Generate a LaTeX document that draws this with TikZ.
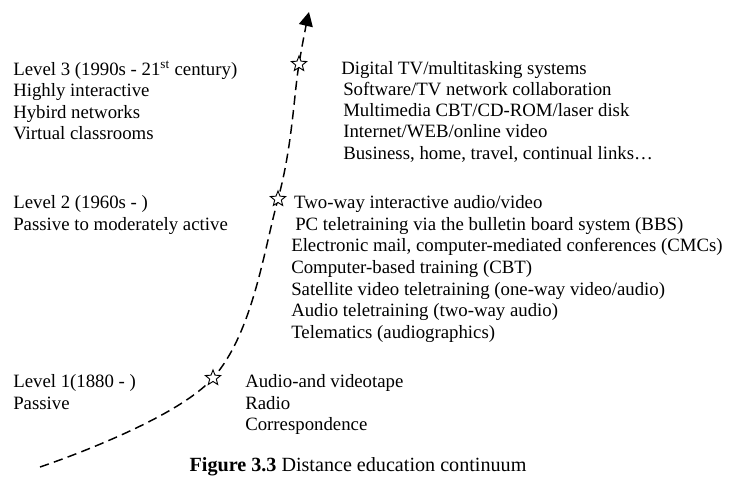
\documentclass[tikz,border=0pt]{standalone}
\usepackage{fontspec}
\setmainfont{Liberation Serif}
\usepackage{tikz}
\usetikzlibrary{arrows.meta,positioning,shapes.geometric}

\begin{document}
\begin{tikzpicture}[
  x=0.75pt,y=-0.75pt,
  txt/.style={anchor=north west,inner sep=0pt,align=left,font=\fontsize{14.1}{16.3}\selectfont},
  tight/.style={font=\fontsize{14.1}{15.9}\selectfont},
  starmark/.style={star,star points=5,star point ratio=2.3,draw,fill=white,line width=0.7pt,minimum size=12pt,inner sep=0pt},
  trend/.style={dash pattern=on 7pt off 4pt,line width=1.1pt,-{Triangle[length=10.5pt,width=10.5pt]}}]
  \useasboundingbox (0,0) rectangle (736,488);
  % points of the continuum
  \coordinate (start) at (40,467);
  \coordinate (p1) at (213,378);
  \coordinate (p2) at (278,199);
  \coordinate (p3) at (299,64);
  \coordinate (tip) at (309,12);
  \draw[trend] plot[smooth,tension=0.6] coordinates {(start) (p1) (p2) (p3) (tip)};
  \node[starmark] (st1) at (p1) {};
  \node[starmark] (st2) at (p2) {};
  \node[starmark] (st3) at (p3) {};
  % levels
  \node[txt,tight] (lvl3) at (13,61) {Level 3 (1990s - 21\textsuperscript{st} century)\\Highly interactive\\Hybird networks\\Virtual classrooms};
  \node[txt] (lvl2) at (13,195) {Level 2 (1960s - )\\Passive to moderately active};
  \node[txt] (lvl1) at (13,374) {Level 1(1880 - )\\Passive};
  % media
  \node[txt,tight] (med3) at (341,61) {Digital TV/multitasking systems\\\kern1.5pt Software/TV network collaboration\\\kern1.5pt Multimedia CBT/CD-ROM/laser disk\\\kern1.5pt Internet/WEB/online video\\\kern1.5pt Business, home, travel, continual links…};
  \node[txt] (med2) at (291,195) {\kern2.2pt Two-way interactive audio/video\\\kern3pt PC teletraining via the bulletin board system (BBS)\\Electronic mail, computer-mediated conferences (CMCs)\\Computer-based training (CBT)\\Satellite video teletraining (one-way video/audio)\\Audio teletraining (two-way audio)\\Telematics (audiographics)};
  \node[txt] (med1) at (245,374) {Audio-and videotape\\Radio\\Correspondence};
  \node[txt,anchor=center,font=\fontsize{15.1}{17}\selectfont] (cap) at (358,467) {\textbf{Figure 3.3} Distance education continuum};
\end{tikzpicture}
\end{document}
